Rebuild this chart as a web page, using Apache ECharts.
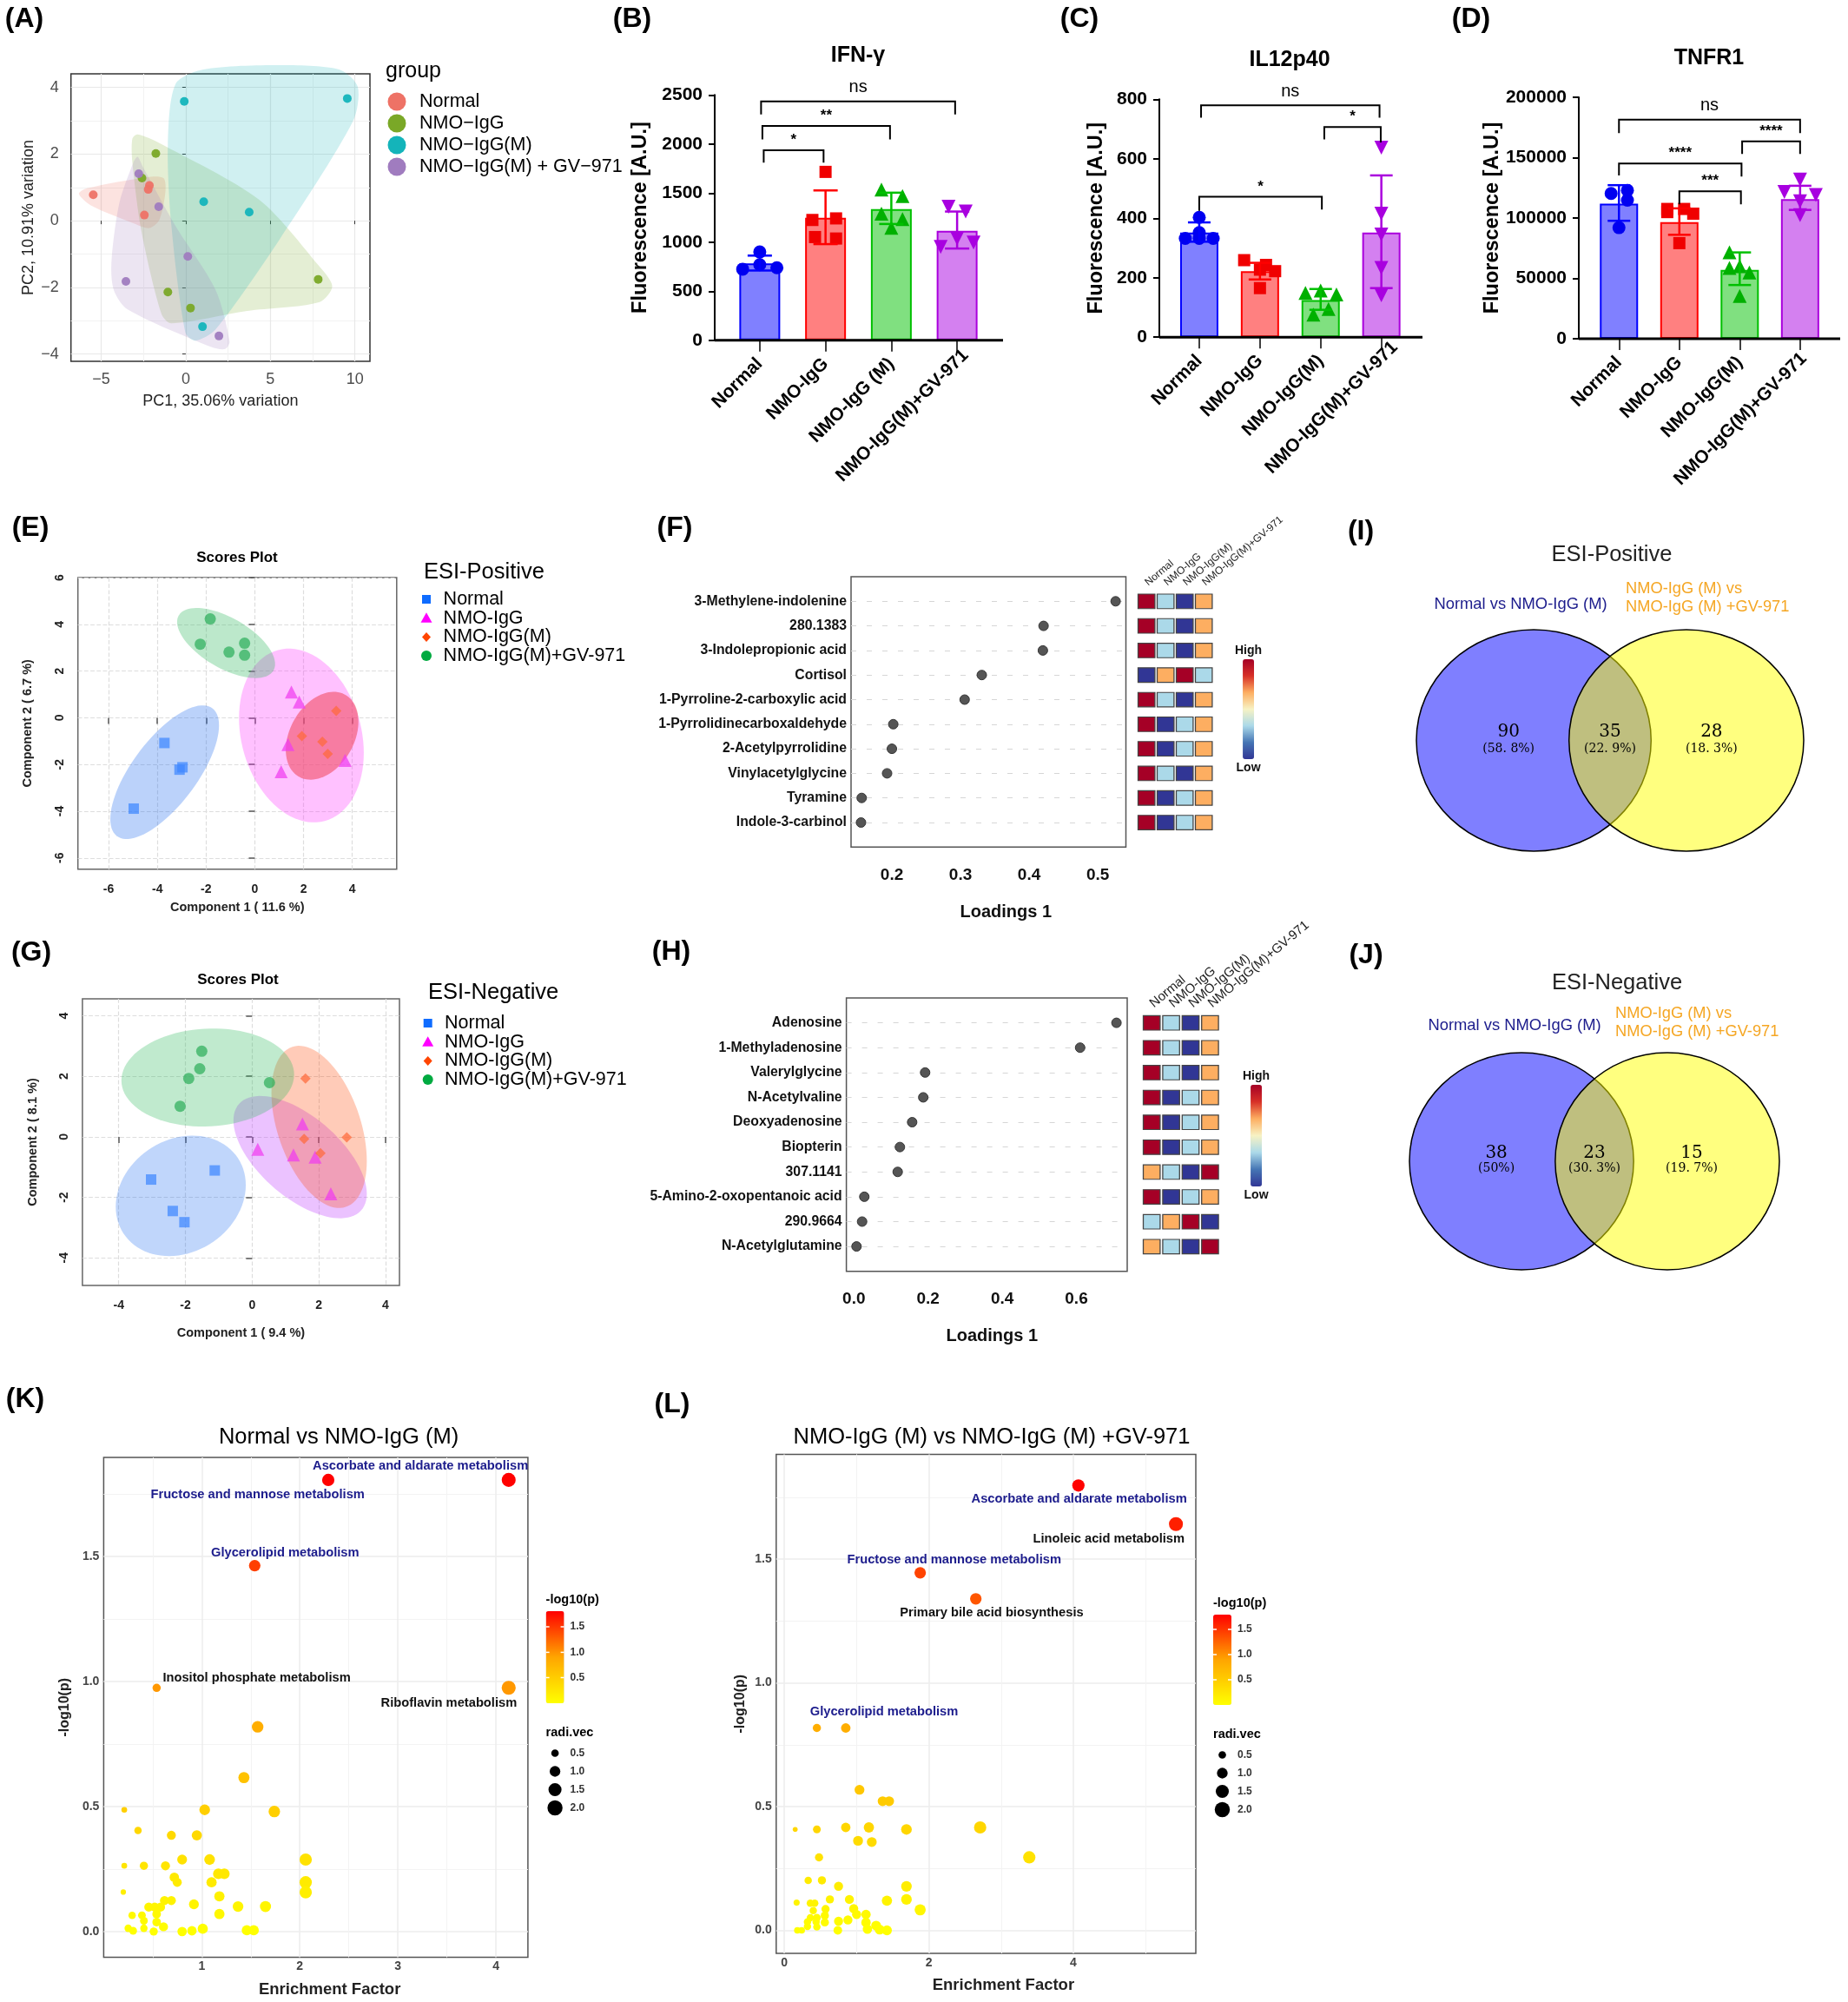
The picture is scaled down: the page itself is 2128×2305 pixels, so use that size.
<!DOCTYPE html>
<html><head><meta charset="utf-8">
<style>html,body{margin:0;padding:0;background:#fff}#c{width:2128px;height:2305px}</style>
<script src="https://cdn.jsdelivr.net/npm/echarts@6/dist/echarts.min.js"></script>
</head><body><div id="c"></div>
<script>
const FONT='"Liberation Sans", Arial, sans-serif';
// ---------- (A) PCA ----------
const pcaNormal=[[-5.47,.78],[-2.15,1.06],[-2.22,.94],[-2.45,.17]];
const pcaIgG=[[-1.77,2.02],[-2.59,1.28],[-1.06,-2.14],[.28,-2.62],[7.83,-1.76]];
const pcaM=[[-.09,3.58],[9.55,3.67],[1.06,.57],[3.75,.26],[.99,-3.18]];
const pcaGV=[[-2.78,1.41],[-1.6,.42],[.12,-1.07],[-3.54,-1.82],[1.96,-3.46]];
const hullNormal=[[-6.32,.81],[-5.8,.98],[-2.26,1.31],[-1.32,1.28],[-1.2,.89],[-1.56,.03],[-2.15,-.22],[-2.97,-.1],[-5.61,.46]];
const hullIgG=[[-3.16,2.46],[-2.85,2.59],[-1.56,2.33],[4.34,.63],[7.88,-1.36],[8.66,-1.97],[7.88,-2.45],[3.63,-2.71],[-.85,-3.08],[-1.44,-2.79],[-2.62,-.32],[-3.16,1.76]];
const hullM=[[-1.06,2.28],[-.61,4.1],[1.04,4.54],[5.52,4.67],[9.06,4.54],[10.17,4.02],[9.88,2.98],[5.52,-.58],[1.75,-3.27],[.57,-3.6],[-.02,-3.36],[-.85,-.15]];
const hullGV=[[-2.85,1.92],[-2.55,1.63],[-.61,-.15],[1.75,-2.06],[2.59,-3.62],[2.33,-3.85],[1.51,-3.79],[-3.44,-2.66],[-4.27,-2.06],[-4.39,-1.19],[-3.92,.55],[-3.09,1.76]];
const pcaLegend=['Normal','NMO\u2212IgG','NMO\u2212IgG(M)','NMO\u2212IgG(M) + GV\u2212971'];
// ---------- (B,C,D) bars ----------
const catsB=['Normal','NMO-IgG','NMO-IgG (M)','NMO-IgG(M)+GV-971'];
const catsCD=['Normal','NMO-IgG','NMO-IgG(M)','NMO-IgG(M)+GV-971'];
const ifnMean=[784,1248,1337,1116], ifnHi=[863,1527,1504,1312], ifnLo=[711,980,1185,935];
const ifnPts=[[[-.26,725],[0,900],[0,770],[.26,740]],[[0,1716],[.16,1242],[-.2,1226],[.16,1037],[-.16,1052]],[[-.15,1536],[.17,1470],[-.15,1290],[.17,1236],[0,1147]],[[-.13,1362],[.13,1312],[-.25,951],[.25,995],[0,1037]]];
const ifnBrackets=[[.02,2.97,2434,2301,2301,'ns'],[.04,1.98,2184,2048,2048,'**'],[.06,.97,1937,1811,1811,'*']];
const il12Mean=[352,222,125,352], il12Hi=[386,250,162,544], il12Lo=[321,194,92,165];
const il12Pts=[[[0,403],[0,352],[-.23,332],[.23,332],[0,332]],[[-.26,259],[.1,243],[0,227],[.25,222],[0,165]],[[-.25,149],[0,157],[.26,144],[-.12,76],[.13,95]],[[0,637],[0,415],[0,233],[0,345],[0,141]]];
const il12Brackets=[[.03,2.97,780,738,738,'ns'],[2.06,2.99,707,665,655,'*'],[0,2.02,472,425,429,'*']];
const tnfMean=[111800,96600,57100,115700], tnfHi=[127200,108000,71500,126700], tnfLo=[97700,86100,44500,106700];
const tnfPts=[[[.14,122900],[-.13,120300],[.14,114700],[0,92000]],[[-.2,107500],[.08,107500],[.23,103600],[-.2,104900],[0,79200]],[[-.17,71500],[-.17,58600],[.16,54800],[0,35500],[0,60000]],[[0,131900],[-.26,121600],[.26,119000],[0,113900],[0,102300]]];
const tnfBrackets=[[0,3,181500,170400,170400,'ns'],[2.04,3,163500,153000,153000,'****'],[0,2.03,145200,135200,134400,'****'],[1,2.02,122100,111300,111300,'***']];
// ---------- (E,G) scores ----------
const posNormal=[[-3.71,-1.08],[-2.97,-2.12],[-3.09,-2.22],[-4.97,-3.89]];
const posIgG=[[1.5,1.1],[1.82,.67],[1.36,-1.15],[3.7,-1.83],[1.08,-2.31]];
const posM=[[3.34,.29],[1.93,-.78],[2.77,-1.03],[2.99,-1.55]];
const posGV=[[-1.83,4.23],[-2.24,3.15],[-1.06,2.81],[-.42,3.19],[-.42,2.68]];
const posEllipses=[[-3.7,-2.33,2.23,2.86,.7],[1.91,-.76,2.56,3.72,-.2],[2.76,-.77,1.49,1.88,.32],[-1.18,3.2,2.01,1.5,-.6]];
const negNormal=[[-1.12,-1.11],[-3.03,-1.41],[-2.38,-2.45],[-2.03,-2.82]];
const negIgG=[[1.51,.43],[.17,-.41],[1.24,-.6],[1.89,-.67],[2.36,-1.88]];
const negM=[[1.6,1.93],[1.56,-.07],[2.84,-.02],[2.05,-.54]];
const negGV=[[-1.51,2.83],[-1.57,2.25],[-1.9,1.93],[.52,1.79],[-2.16,1.01]];
const negEllipses=[[-2.14,-1.95,1.95,1.99,.18],[1.44,-.67,2,2.02,-.6],[2.01,.33,1.43,2.68,-.42],[-1.33,1.96,2.59,1.62,.06]];
const scoreLegend=['Normal','NMO-IgG','NMO-IgG(M)','NMO-IgG(M)+GV-971'];
// ---------- (F,H) loadings ----------
const posNames=['3-Methylene-indolenine','280.1383','3-Indolepropionic acid','Cortisol','1-Pyrroline-2-carboxylic acid','1-Pyrrolidinecarboxaldehyde','2-Acetylpyrrolidine','Vinylacetylglycine','Tyramine','Indole-3-carbinol'];
const posLoad=[.526,.421,.42,.331,.306,.202,.2,.193,.156,.155];
const posHeat=[[4,2,1,3],[4,2,1,3],[4,2,1,3],[1,3,4,2],[4,2,1,3],[4,1,2,3],[4,1,2,3],[4,2,1,3],[4,1,2,3],[4,1,2,3]];
const negNames=['Adenosine','1-Methyladenosine','Valerylglycine','N-Acetylvaline','Deoxyadenosine','Biopterin','307.1141','5-Amino-2-oxopentanoic acid','290.9664','N-Acetylglutamine'];
const negLoad=[.708,.61,.192,.187,.157,.124,.118,.028,.022,.007];
const negHeat=[[4,2,1,3],[4,2,1,3],[4,2,1,3],[4,1,2,3],[4,1,2,3],[4,1,2,3],[3,2,1,4],[4,1,2,3],[2,3,4,1],[3,2,1,4]];
// ---------- (I,J) venn ----------
const vennPosCounts=['90','35','28'], vennPosPct=['(58. 8%)','(22. 9%)','(18. 3%)'];
const vennNegCounts=['38','23','15'], vennNegPct=['(50%)','(30. 3%)','(19. 7%)'];
// ---------- (K,L) enrichment: [enrichment, -log10(p), radi.vec] ----------
const pathK=[[2.29,1.807,1.33],[4.13,1.807,1.71],[1.54,1.464,1.16],[.54,.975,.59],[4.13,.975,1.71],[1.57,.819,1.16],[1.43,.616,1.08],[1.03,.487,1],[1.74,.48,1.16],[.21,.487,.29],[.35,.404,.48],[.69,.385,.72],[.95,.385,.92],[.8,.288,.85],[1.08,.288,1],[2.06,.288,1.33],[.21,.263,.29],[.41,.263,.59],[.63,.263,.72],[1.17,.231,1],[1.23,.231,1],[.72,.217,.78],[.75,.197,.72],[1.1,.197,.92],[2.06,.197,1.33],[2.06,.157,1.33],[.2,.158,.25],[1.18,.141,.92],[.62,.124,.72],[.69,.124,.72],[.92,.109,.85],[.46,.098,.72],[.52,.098,.72],[.58,.098,.72],[1.37,.1,1],[1.65,.1,1.08],[.29,.065,.48],[.39,.065,.53],[.54,.07,.65],[1.18,.07,.92],[.41,.043,.53],[.54,.038,.65],[.41,.013,.48],[.61,.019,.72],[.25,.013,.48],[.3,.003,.53],[.51,0,.59],[.8,0,.78],[.9,.003,.78],[1.01,.011,.92],[1.46,.005,.92],[1.53,.005,.92]];
const pathL=[[4.07,1.798,1.33],[5.42,1.642,1.71],[1.88,1.445,1.16],[2.65,1.34,1.16],[.45,.818,.59],[.85,.818,.78],[1.04,.568,.85],[1.36,.522,.85],[1.45,.522,.85],[.15,.408,.21],[.45,.408,.53],[.85,.416,.78],[1.17,.416,.92],[1.69,.408,1],[2.71,.416,1.33],[1.02,.362,.85],[1.21,.357,.85],[.48,.295,.59],[3.39,.295,1.33],[.33,.202,.48],[.52,.202,.59],[.75,.178,.72],[1.69,.178,1],[.17,.112,.33],[.36,.11,.48],[.42,.11,.48],[.63,.125,.59],[.9,.125,.72],[1.42,.12,.92],[1.69,.125,1],[1.88,.083,1.08],[.4,.08,.48],[.57,.086,.59],[.96,.088,.72],[1.13,.064,.78],[1,.064,.72],[.56,.059,.59],[.36,.051,.48],[.45,.051,.53],[.32,.034,.48],[.44,.034,.48],[.56,.032,.59],[.75,.037,.72],[.88,.042,.72],[1.13,.032,.78],[1.27,.019,.85],[.32,.016,.48],[.45,.014,.48],[.18,0,.38],[.24,0,.38],[.74,0,.65],[1.15,.005,.78],[1.32,.003,.85],[1.42,0,.85]];
const labelsK=[[3.23,1.862,'Ascorbate and aldarate metabolism',1],[1.57,1.748,'Fructose and mannose metabolism',1],[1.85,1.515,'Glycerolipid metabolism',1],[1.56,1.016,'Inositol phosphate metabolism',0],[3.52,.914,'Riboflavin metabolism',0]];
const labelsL=[[4.08,1.743,'Ascorbate and aldarate metabolism',1],[4.49,1.582,'Linoleic acid metabolism',0],[2.35,1.497,'Fructose and mannose metabolism',1],[2.87,1.284,'Primary bile acid biosynthesis',0],[1.38,.884,'Glycerolipid metabolism',1]];
const radiLegend=[.5,1,1.5,2];

// ---------- assembly ----------
const grid=[],xAxis=[],yAxis=[],series=[],visualMap=[],gfx=[];
const addGrid=(l,t,r,b,extra)=>{grid.push(Object.assign({left:l,top:t,width:r-l,height:b-t},extra||{}));return grid.length-1;};
const addX=c=>{xAxis.push(c);return xAxis.length-1;};
const addY=c=>{yAxis.push(c);return yAxis.length-1;};
const txt=(x,y,s,o)=>gfx.push({type:'text',x,y,z:100,silent:true,rotation:(o&&o.rot)||0,style:Object.assign({text:s,fontFamily:FONT,fontSize:14,fill:'#000',align:'left',verticalAlign:'middle'},o||{})});
const panel=(x,y,s)=>txt(x,y,s,{fontSize:32,fontWeight:'bold',align:'center'});
const gLine=(x1,y1,x2,y2,c,w)=>gfx.push({type:'line',z:100,silent:true,shape:{x1,y1,x2,y2},style:{stroke:c,lineWidth:w}});
const gRect=(x,y,w,h,c)=>gfx.push({type:'rect',z:100,silent:true,shape:{x,y,width:w,height:h},style:{fill:c}});
const gCircle=(x,y,r,c)=>gfx.push({type:'circle',z:100,silent:true,shape:{cx:x,cy:y,r},style:{fill:c}});
const gPoly=(pts,c)=>gfx.push({type:'polygon',z:100,silent:true,shape:{points:pts},style:{fill:c}});
const noMark={axisLine:{show:false},axisTick:{show:false},axisLabel:{show:false},splitLine:{show:false}};

// panel letters
[[28,22,'(A)'],[728,22,'(B)'],[1243,22,'(C)'],[1694,22,'(D)'],[35,608,'(E)'],[777,608,'(F)'],[36,1097,'(G)'],[773,1096,'(H)'],[1567,612,'(I)'],[1573,1100,'(J)'],[29,1611,'(K)'],[774,1617,'(L)']].forEach(p=>panel(p[0],p[1],p[2]));

// (A)
(function(){
 const g=addGrid(81.7,85,426,416,{show:true,borderColor:'#333',borderWidth:1.5,backgroundColor:'transparent'});
 const xMin=-6.79,xMax=10.89,yMin=-4.22,yMax=4.41;
 const lab={color:'#4D4D4D',fontSize:18};
 const minus=v=>String(v).replace('-','\u2212');
 const xi=addX({type:'value',gridIndex:g,min:xMin,max:xMax,axisLine:{show:false},axisTick:{customValues:[-5,0,5,10],length:4,lineStyle:{color:'#333'}},axisLabel:Object.assign({customValues:[-5,0,5,10],formatter:minus,margin:12},lab),splitLine:{lineStyle:{color:'#E8E8E8',width:1.2}},name:'PC1, 35.06% variation',nameLocation:'middle',nameGap:37,nameTextStyle:{fontSize:18,color:'#222'}});
 const yi=addY({type:'value',gridIndex:g,min:yMin,max:yMax,axisLine:{show:false},axisTick:{customValues:[-4,-2,0,2,4],length:4,lineStyle:{color:'#333'}},axisLabel:Object.assign({customValues:[-4,-2,0,2,4],formatter:minus,margin:14},lab),splitLine:{lineStyle:{color:'#E8E8E8',width:1.2}},name:'PC2, 10.91% variation',nameLocation:'middle',nameGap:40,nameTextStyle:{fontSize:18,color:'#222'}});
 addX({type:'value',gridIndex:g,min:xMin,max:xMax,position:'bottom',...noMark,axisTick:{show:false,customValues:[-2.5,2.5,7.5]},splitLine:{show:true,lineStyle:{color:'#F2F2F2',width:1}}});
 addY({type:'value',gridIndex:g,min:yMin,max:yMax,position:'left',...noMark,axisTick:{show:false,customValues:[-3,-1,1,3]},splitLine:{show:true,lineStyle:{color:'#F2F2F2',width:1}}});
 const cols=['#EE7266','#7AA827','#14B4BA','#A07CBF'];
 [hullNormal,hullIgG,hullM,hullGV].forEach((h,i)=>series.push({type:'custom',xAxisIndex:xi,yAxisIndex:yi,clip:false,data:h,silent:true,z:2,
   renderItem:(p,api)=>p.dataIndex?null:({type:'polygon',shape:{points:h.map(q=>api.coord(q)),smooth:.28},style:{fill:cols[i],opacity:.2}})}));
 [pcaNormal,pcaIgG,pcaM,pcaGV].forEach((d,i)=>series.push({type:'scatter',name:pcaLegend[i],xAxisIndex:xi,yAxisIndex:yi,data:d,symbolSize:10,z:3,itemStyle:{color:cols[i],opacity:.95}}));
 txt(444,82,'group',{fontSize:25});
 pcaLegend.forEach((s,i)=>{const y=117+25*i;gCircle(457,y,10.5,cols[i]);txt(483,y,s,{fontSize:21.5});});
})();

// (B,C,D)
const barFill=['#8080FF','#FF8080','#80E080','#D480F0'],barLine=['#0000FF','#FF0000','#00C000','#AA00DD'],dot=['#0000F0','#F00000','#00B000','#A800E0'];
function barPanel(o){
 const g=addGrid(o.l,o.t,o.r,o.b);
 const catData=o.cats.map((c,i)=>i===3?{value:c,textStyle:{padding:[o.padT,-o.padS,0,0]}}:c);
 const xc=addX({type:'category',gridIndex:g,data:catData,position:'bottom',axisLine:{show:false},axisTick:{show:true,alignWithLabel:true,length:13,lineStyle:{color:'#000',width:1.5}},axisLabel:{interval:0,rotate:45,fontWeight:'bold',fontSize:21,color:'#000',margin:24}});
 const xv=addX({type:'value',gridIndex:g,min:-.5,max:3.5,show:false});
 const y=addY({type:'value',gridIndex:g,min:0,max:o.max,interval:o.step,offset:o.l-o.axisX,axisLine:{show:true,onZero:false,lineStyle:{color:'#000',width:2}},axisTick:{show:true,length:7,lineStyle:{color:'#000',width:2}},axisLabel:{fontWeight:'bold',fontSize:21,color:'#000',margin:14,formatter:v=>String(v)},splitLine:{show:false},name:'Fluorescence [A.U.]',nameLocation:'middle',nameGap:o.axisX-o.nameX-12,nameTextStyle:{fontWeight:'bold',fontSize:23.5,color:'#000'}});
 series.push({type:'bar',xAxisIndex:xc,yAxisIndex:y,barWidth:o.barW,z:2,data:o.means.map((v,i)=>({value:v,itemStyle:{color:barFill[i],borderColor:barLine[i],borderWidth:2}}))});
 const syms=['circle','rect','triangle','triangle'];
 o.pts.forEach((d,i)=>series.push({type:'scatter',xAxisIndex:xv,yAxisIndex:y,clip:false,data:d.map(p=>[i+p[0],p[1]]),symbol:syms[i],symbolSize:i===1?14:(i===0?15:16),symbolRotate:i===3?180:0,z:3,itemStyle:{color:dot[i],opacity:1}}));
 const rows=o.means.map((m,i)=>[i,o.hi[i],o.lo[i]]);
 series.push({type:'custom',xAxisIndex:xv,yAxisIndex:y,clip:false,data:rows,z:4,silent:true,renderItem:(p,api)=>{
   const i=api.value(0),a=api.coord([i,api.value(1)]),c=api.coord([i,api.value(2)]),w=o.whisker,st={stroke:barLine[i],lineWidth:2.5};
   return {type:'group',children:[{type:'line',shape:{x1:a[0],y1:a[1],x2:c[0],y2:c[1]},style:st},{type:'line',shape:{x1:a[0]-w,y1:a[1],x2:a[0]+w,y2:a[1]},style:st},{type:'line',shape:{x1:c[0]-w,y1:c[1],x2:c[0]+w,y2:c[1]},style:st}]};}});
 series.push({type:'custom',xAxisIndex:xv,yAxisIndex:y,clip:false,data:o.brackets.map(b=>b.slice(0,5)),z:5,silent:true,renderItem:(p,api)=>{
   const b=o.brackets[p.dataIndex],A=api.coord([b[0],b[3]]),B=api.coord([b[0],b[2]]),C=api.coord([b[1],b[2]]),D=api.coord([b[1],b[4]]),ns=b[5]==='ns';
   return {type:'group',children:[{type:'polyline',shape:{points:[A,B,C,D]},style:{stroke:'#000',lineWidth:2,fill:null}},
    {type:'text',style:{text:b[5],x:(B[0]+C[0])/2,y:B[1]-(ns?6:3),align:'center',verticalAlign:'bottom',fontFamily:FONT,fontSize:ns?20:17,fontWeight:ns?'normal':'bold',fill:'#000'}}]};}});
 gLine(o.axisX,o.b,o.axisEnd,o.b,'#000',3);
 txt(o.titleX,o.titleY,o.title,{fontSize:25,fontWeight:'bold',align:'center'});
}
barPanel({l:837,r:1140,t:109.3,b:391.8,axisX:823,axisEnd:1155,nameX:738,max:2500,step:500,cats:catsB,means:ifnMean,hi:ifnHi,lo:ifnLo,pts:ifnPts,brackets:ifnBrackets,barW:47,whisker:14,padS:14,padT:62,title:'IFN-\u03B3',titleX:988,titleY:64});
barPanel({l:1346,r:1625.6,t:114.3,b:388.2,axisX:1335,axisEnd:1638,nameX:1263,max:800,step:200,cats:catsCD,means:il12Mean,hi:il12Hi,lo:il12Lo,pts:il12Pts,brackets:il12Brackets,barW:44,whisker:13,padS:22,padT:65,title:'IL12p40',titleX:1485,titleY:69});
barPanel({l:1829.5,r:2107.6,t:112,b:390,axisX:1818,axisEnd:2119,nameX:1720,max:200000,step:50000,cats:catsCD,means:tnfMean,hi:tnfHi,lo:tnfLo,pts:tnfPts,brackets:tnfBrackets,barW:44,whisker:13,padS:6,padT:31,title:'TNFR1',titleX:1968,titleY:67});

// (E,G)
const scoreSyms=['rect','triangle','diamond','circle'],scoreSize=[12,15,12,13],scoreDot=['#3D86FF','#F03CF0','#FF6A3A','#2EAE5C'];
function scorePanel(o){
 const g=addGrid(o.l,o.t,o.r,o.b,{show:true,borderColor:'#666',borderWidth:1.5,backgroundColor:'transparent'});
 const sp={show:true,lineStyle:{type:'dashed',color:'#DDD',width:1.2}};
 const xi=addX({type:'value',gridIndex:g,min:o.x[0],max:o.x[1],axisLine:{show:false},axisTick:{customValues:o.xt,length:7,lineStyle:{color:'#555',width:1.5}},axisLabel:{customValues:o.xt,fontWeight:'bold',fontSize:14,color:'#222',margin:16},splitLine:sp,name:o.xName,nameLocation:'middle',nameGap:o.xGap,nameTextStyle:{fontWeight:'bold',fontSize:14.5,color:'#222'}});
 const yi=addY({type:'value',gridIndex:g,min:o.y[0],max:o.y[1],axisLine:{show:false},axisTick:{customValues:o.yt,length:7,lineStyle:{color:'#555',width:1.5}},axisLabel:{customValues:o.yt,rotate:90,fontWeight:'bold',fontSize:14,color:'#222',margin:14},splitLine:sp,name:o.yName,nameLocation:'middle',nameGap:o.yGap,nameTextStyle:{fontWeight:'bold',fontSize:14.5,color:'#222'}});
 o.ell.forEach((e,i)=>series.push({type:'custom',xAxisIndex:xi,yAxisIndex:yi,clip:false,silent:true,z:2,data:[e],renderItem:(p,api)=>{
   const pts=[],q=Math.sqrt(1-e[4]*e[4]);
   for(let k=0;k<90;k++){const t=k/90*2*Math.PI,c=Math.cos(t),s=Math.sin(t);pts.push(api.coord([e[0]+e[2]*c,e[1]+e[3]*(e[4]*c+q*s)]));}
   return {type:'polygon',shape:{points:pts},style:{fill:o.ellCol[i],opacity:o.ellA[i]}};}}));
 o.pts.forEach((d,i)=>series.push({type:'scatter',xAxisIndex:xi,yAxisIndex:yi,data:d,symbol:scoreSyms[i],symbolSize:scoreSize[i],z:3,itemStyle:{color:scoreDot[i],opacity:.72}}));
 txt(o.titleX,o.titleY,'Scores Plot',{fontSize:17,fontWeight:'bold',align:'center'});
 txt(o.headX,o.headY,o.head,{fontSize:25.5});
 const c=['#0F6CFF','#FF00FF','#FF4500','#00AA40'];
 scoreLegend.forEach((s,i)=>{const y=o.legY+21.7*i,x=o.mx;
  if(i===0)gRect(x-5,y-5,10,10,c[0]);
  if(i===1)gPoly([[x-6.5,y+5],[x+6.5,y+5],[x,y-6.5]],c[1]);
  if(i===2)gPoly([[x-5,y],[x,y-5.5],[x+5,y],[x,y+5.5]],c[2]);
  if(i===3)gCircle(x,y,6,c[3]);
  txt(o.tx,y,s,{fontSize:21.5});});
}
scorePanel({l:89.7,t:665,r:456.8,b:1000.7,x:[-7.26,5.82],y:[-6.48,6],xt:[-6,-4,-2,0,2,4],yt:[-6,-4,-2,0,2,4,6],xName:'Component 1 ( 11.6 %)',yName:'Component 2 ( 6.7 %)',xGap:37,yGap:50,ell:posEllipses,ellCol:['#1E6BF0','#FF33FF','#F24A5E','#2EB85C'],ellA:[.3,.3,.58,.32],pts:[posNormal,posIgG,posM,posGV],titleX:273,titleY:642,head:'ESI-Positive',headX:488,headY:659,mx:491,tx:510.6,legY:690});
scorePanel({l:94.9,t:1150,r:460,b:1480,x:[-5.09,4.42],y:[-4.91,4.56],xt:[-4,-2,0,2,4],yt:[-4,-2,0,2,4],xName:'Component 1 ( 9.4 %)',yName:'Component 2 ( 8.1 %)',xGap:47,yGap:49,ell:negEllipses,ellCol:['#1E6BF0','#C040FF','#FF4500','#2EB85C'],ellA:[.28,.32,.28,.3],pts:[negNormal,negIgG,negM,negGV],titleX:274,titleY:1128,head:'ESI-Negative',headX:493,headY:1143,mx:492.7,tx:512,legY:1178});

// (F,H)
const heatColors=['#313695','#4575B4','#ABD9E9','#F7F2C4','#FDAE61','#D73027','#A50026'];
function loadPanel(o){
 const g=addGrid(o.l,o.t,o.r,o.b,{show:true,borderColor:'#555',borderWidth:1.5,backgroundColor:'transparent'});
 const xi=addX({type:'value',gridIndex:g,min:o.x[0],max:o.x[1],axisLine:{show:false},axisTick:{customValues:o.xTicks,length:11,lineStyle:{color:'#444',width:1.5}},axisLabel:{customValues:o.xLabels,formatter:v=>v.toFixed(1),fontWeight:'bold',fontSize:19,color:'#111',margin:23},splitLine:{show:false},name:'Loadings 1',nameLocation:'middle',nameGap:65,nameTextStyle:{fontWeight:'bold',fontSize:20,color:'#111',padding:[0,0,0,o.namePad]}});
 const yi=addY({type:'category',gridIndex:g,inverse:true,boundaryGap:false,data:[''].concat(o.names,['']),axisLine:{show:false},axisTick:{show:false},axisLabel:{interval:0,fontWeight:'bold',fontSize:15.8,color:'#111',margin:5},splitLine:{show:true,interval:(i)=>i>0&&i<11,lineStyle:{type:[6,12],color:'#D6D6D6',width:1.2}}});
 series.push({type:'scatter',xAxisIndex:xi,yAxisIndex:yi,data:o.load.map((v,i)=>[v,i+1]),symbolSize:11,clip:false,z:3,itemStyle:{color:'#555',borderColor:'#333',borderWidth:1,opacity:1}});
 const h=addGrid(o.hl,o.ht,o.hl+o.hw*4,o.hb);
 const hx=addX({type:'category',gridIndex:h,position:'top',data:scoreLegend,axisLine:{show:false},axisTick:{show:false},axisLabel:{interval:0,rotate:-40,fontSize:o.hf,color:'#222',margin:o.hm}});
 const hy=addY({type:'category',gridIndex:h,inverse:true,data:o.names,show:false});
 const hd=[];o.heat.forEach((r,ri)=>r.forEach((v,ci)=>hd.push([ci,ri,v])));
 series.push({type:'scatter',xAxisIndex:hx,yAxisIndex:hy,data:hd,symbol:'rect',symbolSize:[19.4,16.7],z:3,itemStyle:{borderColor:'#444',borderWidth:1.2,opacity:1}});
 visualMap.push({type:'continuous',show:true,seriesIndex:series.length-1,dimension:2,min:1,max:4,left:o.vmL,top:o.vmT,itemWidth:13,itemHeight:o.vmH,padding:0,text:['High','Low'],textGap:3,calculable:false,hoverLink:false,textStyle:{fontWeight:'bold',fontSize:14,color:'#111',fontFamily:FONT},inRange:{color:heatColors}});
}
loadPanel({l:980,t:664,r:1296.5,b:975.3,x:[.1405,.541],xTicks:[.2,.3,.4,.5],xLabels:[.2,.3,.4,.5],names:posNames,load:posLoad,heat:posHeat,hl:1309.2,hw:22,ht:678.2,hb:961.2,hm:6,hf:12,namePad:40,vmL:1422,vmT:742,vmH:115});
loadPanel({l:974.6,t:1149,r:1298,b:1463.7,x:[-.0204,.737],xTicks:[0,.1,.2,.3,.4,.5,.6,.7],xLabels:[0,.2,.4,.6],names:negNames,load:negLoad,heat:negHeat,hl:1315,hw:22.4,ht:1163.4,hb:1449.6,hm:6,hf:15,namePad:12,vmL:1431,vmT:1232,vmH:117});

// (I,J)
function venn(o){
 const g=addGrid(o.l,o.t,o.r,o.b);
 const xi=addX({type:'value',gridIndex:g,min:0,max:1,show:false});
 const yi=addY({type:'value',gridIndex:g,min:0,max:1,show:false});
 const circles=[[.303,.5,.303,.5],[.697,.5,.303,.5]],fills=['rgba(0,0,255,.5)','rgba(255,255,0,.5)'];
 series.push({type:'custom',xAxisIndex:xi,yAxisIndex:yi,clip:false,silent:true,z:2,data:circles,renderItem:(p,api)=>{
   const c=api.coord([api.value(0),api.value(1)]),e=api.coord([api.value(0)+api.value(2),api.value(1)+api.value(3)]);
   return {type:'ellipse',shape:{cx:c[0],cy:c[1],rx:e[0]-c[0],ry:c[1]-e[1]},style:{fill:fills[p.dataIndex],stroke:'#000',lineWidth:1.5}};}});
 const rows=o.counts.map((s,i)=>[o.xs[i]]);
 series.push({type:'custom',xAxisIndex:xi,yAxisIndex:yi,clip:false,silent:true,z:3,data:rows,renderItem:(p,api)=>{
   const i=p.dataIndex,a=api.coord([o.xs[i],o.yc]),b=api.coord([o.xs[i],o.yp]);
   const base={align:'center',verticalAlign:'middle',fontFamily:'"DejaVu Serif","Liberation Serif",serif',fill:'#000'};
   return {type:'group',children:[{type:'text',style:Object.assign({text:o.counts[i],x:a[0],y:a[1],fontSize:20},base)},{type:'text',style:Object.assign({text:o.pct[i],x:b[0],y:b[1],fontSize:14},base)}]};}});
 txt(o.titleX,o.titleY,o.title,{fontSize:25.5,align:'center',fill:'#222'});
 txt(o.blueX,o.blueY,'Normal vs NMO-IgG (M)',{fontSize:18.4,align:'center',fill:'#1C1C8C'});
 txt(o.orX,o.orY,'NMO-IgG (M) vs',{fontSize:18.3,fill:'#F5A623'});
 txt(o.orX,o.orY+21,'NMO-IgG (M) +GV-971',{fontSize:18.3,fill:'#F5A623'});
}
venn({l:1631,r:2077,t:725,b:980,xs:[.238,.5,.762],yc:.537,yp:.463,counts:vennPosCounts,pct:vennPosPct,title:'ESI-Positive',titleX:1856,titleY:639,blueX:1751,blueY:696,orX:1872,orY:678});
venn({l:1623,r:2049,t:1212,b:1462,xs:[.235,.5,.763],yc:.536,yp:.468,counts:vennNegCounts,pct:vennNegPct,title:'ESI-Negative',titleX:1862,titleY:1132,blueX:1744,blueY:1181,orX:1860,orY:1167});

// (K,L)
const sizeOf=r=>12.3*Math.sqrt(r);
function enrich(o){
 const g=addGrid(o.l,o.t,o.r,o.b,{show:true,borderColor:'#555',borderWidth:1.5,backgroundColor:'transparent'});
 const xi=addX({type:'value',gridIndex:g,min:o.x[0],max:o.x[1],axisLine:{show:false},axisTick:{show:false,customValues:o.xMaj},axisLabel:{customValues:o.xLab,fontWeight:'bold',fontSize:14,color:'#444',margin:4},splitLine:{lineStyle:{color:'#EDEDED',width:1.5}},name:'Enrichment Factor',nameLocation:'middle',nameGap:o.xGap,nameTextStyle:{fontWeight:'bold',fontSize:18.5,color:'#222',padding:[0,0,0,o.namePad]}});
 const yt=[0,.5,1,1.5];
 const yi=addY({type:'value',gridIndex:g,min:o.y[0],max:o.y[1],axisLine:{show:false},axisTick:{show:false,customValues:yt},axisLabel:{customValues:yt,formatter:v=>v.toFixed(1),fontWeight:'bold',fontSize:14,color:'#444',margin:5},splitLine:{lineStyle:{color:'#EDEDED',width:1.5}},name:'-log10(p)',nameLocation:'middle',nameGap:o.yGap,nameTextStyle:{fontWeight:'bold',fontSize:16,color:'#222'}});
 addX({type:'value',gridIndex:g,min:o.x[0],max:o.x[1],position:'bottom',...noMark,axisTick:{show:false,customValues:o.xMin},splitLine:{show:true,lineStyle:{color:'#F3F3F3',width:1}}});
 addY({type:'value',gridIndex:g,min:o.y[0],max:o.y[1],position:'left',...noMark,axisTick:{show:false,customValues:[.25,.75,1.25,1.75]},splitLine:{show:true,lineStyle:{color:'#F3F3F3',width:1}}});
 series.push({type:'scatter',xAxisIndex:xi,yAxisIndex:yi,data:o.data,symbolSize:d=>sizeOf(d[2]),z:3,clip:false,itemStyle:{opacity:1}});
 visualMap.push({type:'continuous',show:true,seriesIndex:series.length-1,dimension:1,min:0,max:1.81,left:o.cbL,top:o.cbT,itemWidth:21,itemHeight:o.cbH,padding:0,calculable:false,hoverLink:false,text:null,inRange:{color:['#FFFF00','#FFA500','#FF0000']}});
 series.push({type:'custom',xAxisIndex:xi,yAxisIndex:yi,clip:false,silent:true,z:4,data:o.labels.map(r=>[r[0],r[1]]),renderItem:(p,api)=>{
   const r=o.labels[p.dataIndex],c=api.coord([r[0],r[1]]);
   return {type:'text',style:{text:r[2],x:c[0],y:c[1],align:'center',verticalAlign:'middle',fontFamily:FONT,fontSize:14.7,fontWeight:'bold',fill:r[3]?'#1C1C8C':'#111'}};}});
 txt(o.titleX,o.titleY,o.title,{fontSize:25.5,align:'center'});
 txt(o.cbL,o.cbT-13,'-log10(p)',{fontSize:14.5,fontWeight:'bold'});
 o.cbTicks.forEach((y,i)=>{gLine(o.cbL,y,o.cbL+4,y,'#fff',1.5);gLine(o.cbL+17,y,o.cbL+21,y,'#fff',1.5);txt(o.cbL+28,y,['1.5','1.0','0.5'][i],{fontSize:12,fontWeight:'bold',fill:'#333'});});
 txt(o.cbL,o.radY,'radi.vec',{fontSize:14.5,fontWeight:'bold'});
 radiLegend.forEach((r,i)=>{const y=o.radY+23.5+21*i;gCircle(o.cbL+10.5,y,sizeOf(r)/2,'#000');txt(o.cbL+28,y,r.toFixed(1),{fontSize:12,fontWeight:'bold',fill:'#333'});});
}
enrich({l:119.4,t:1678,r:607.9,b:2253.5,x:[0,4.326],y:[-.103,1.897],xMaj:[1,2,3,4],xLab:[1,2,3,4],xMin:[.5,1.5,2.5,3.5],xGap:28,yGap:37,namePad:32,data:pathK,labels:labelsK,title:'Normal vs NMO-IgG (M)',titleX:390,titleY:1655,cbL:628.6,cbT:1855,cbH:106,cbTicks:[1873,1902.4,1931.5],radY:1995});
enrich({l:893.8,t:1674.4,r:1377,b:2249,x:[-.113,5.695],y:[-.093,1.924],xMaj:[0,2,4],xLab:[0,2,4],xMin:[1,3,5],xGap:27,yGap:33,namePad:40,data:pathL,labels:labelsL,title:'NMO-IgG (M) vs NMO-IgG (M) +GV-971',titleX:1142,titleY:1655,cbL:1397,cbT:1859,cbH:104,cbTicks:[1876,1905,1934],radY:1997});

const chart=echarts.init(document.getElementById('c'),null,{renderer:'canvas',width:2128,height:2305});
chart.setOption({animation:false,backgroundColor:'#fff',textStyle:{fontFamily:FONT},tooltip:{show:false},grid,xAxis,yAxis,series,visualMap,graphic:{elements:gfx}});
</script></body></html>
